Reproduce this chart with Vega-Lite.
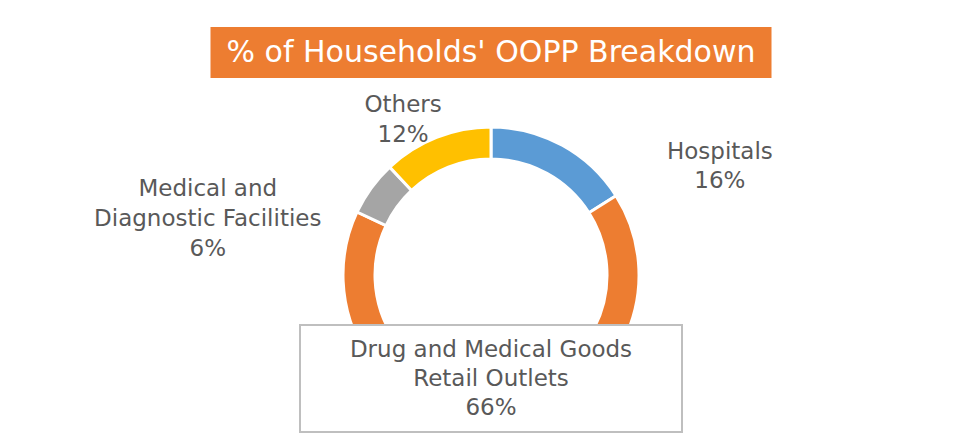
{
  "$schema": "https://vega.github.io/schema/vega-lite/v6.json",
  "padding": {"left": 41, "top": 27, "right": 0, "bottom": 0},
  "background": "white",
  "config": {"view": {"stroke": null}, "font": "DejaVu Sans"},
  "data": {
    "values": [
      {"name": "Hospitals", "pct": 16},
      {"name": "Drug and Medical Goods\nRetail Outlets", "pct": 66},
      {"name": "Medical and\nDiagnostic Facilities", "pct": 6},
      {"name": "Others", "pct": 12}
    ]
  },
  "transform": [
    {"window": [{"op": "row_number", "as": "rank"}]},
    {"calculate": "datum.name + '\\n' + datum.pct + '%'", "as": "label"}
  ],
  "spacing": 10,
  "center": true,
  "vconcat": [
    {
      "width": 561,
      "height": 51,
      "data": {"values": [{"t": "% of Households' OOPP Breakdown"}]},
      "view": {"fill": "#ED7D31", "stroke": null},
      "mark": {"type": "text", "color": "white", "fontSize": 30},
      "encoding": {"text": {"field": "t"}}
    },
    {
      "spacing": 0,
      "center": true,
      "bounds": "flush",
      "vconcat": [
        {
          "width": 900,
          "height": 237,
          "layer": [
            {
              "mark": {"type": "arc", "y": 187, "innerRadius": 116, "outerRadius": 148, "stroke": "white", "strokeWidth": 3},
              "encoding": {
                "theta": {"field": "pct", "type": "quantitative", "stack": true},
                "order": {"field": "rank"},
                "color": {
                  "field": "name",
                  "type": "nominal",
                  "scale": {
                    "domain": ["Hospitals", "Drug and Medical Goods\nRetail Outlets", "Medical and\nDiagnostic Facilities", "Others"],
                    "range": ["#5B9BD5", "#ED7D31", "#A5A5A5", "#FFC000"]
                  },
                  "legend": null
                }
              }
            },
            {
              "transform": [
                {"stack": "pct", "groupby": [], "sort": [{"field": "rank"}], "as": ["t0", "t1"]},
                {"calculate": "(datum.t0 + datum.t1) / 2", "as": "tm"},
                {"filter": "datum.name == 'Others'"}
              ],
              "mark": {"type": "text", "y": 187, "radius": 160, "dx": -29, "dy": -21, "fontSize": 23, "color": "#595959", "lineBreak": "\n", "lineHeight": 30},
              "encoding": {
                "theta": {"field": "tm", "type": "quantitative", "stack": null},
                "text": {"field": "label"}
              }
            },
            {
              "transform": [
                {"stack": "pct", "groupby": [], "sort": [{"field": "rank"}], "as": ["t0", "t1"]},
                {"calculate": "(datum.t0 + datum.t1) / 2", "as": "tm"},
                {"filter": "datum.name == 'Hospitals'"}
              ],
              "mark": {"type": "text", "y": 187, "radius": 170, "dx": 147, "dy": 26, "fontSize": 23, "color": "#595959", "lineBreak": "\n", "lineHeight": 29},
              "encoding": {
                "theta": {"field": "tm", "type": "quantitative", "stack": null},
                "text": {"field": "label"}
              }
            },
            {
              "transform": [
                {"stack": "pct", "groupby": [], "sort": [{"field": "rank"}], "as": ["t0", "t1"]},
                {"calculate": "(datum.t0 + datum.t1) / 2", "as": "tm"},
                {"filter": "datum.pct == 6"}
              ],
              "mark": {"type": "text", "y": 187, "radius": 250, "dx": -81, "dy": 61, "fontSize": 23, "color": "#595959", "lineBreak": "\n", "lineHeight": 30},
              "encoding": {
                "theta": {"field": "tm", "type": "quantitative", "stack": null},
                "text": {"field": "label"}
              }
            }
          ]
        },
        {
          "width": 382,
          "height": 107,
          "view": {"fill": "white", "stroke": "#BFBFBF", "strokeWidth": 2},
          "transform": [{"filter": "datum.pct == 66"}],
          "mark": {"type": "text", "dy": -29, "fontSize": 23, "color": "#595959", "lineBreak": "\n", "lineHeight": 29},
          "encoding": {"text": {"field": "label"}}
        }
      ]
    }
  ]
}
